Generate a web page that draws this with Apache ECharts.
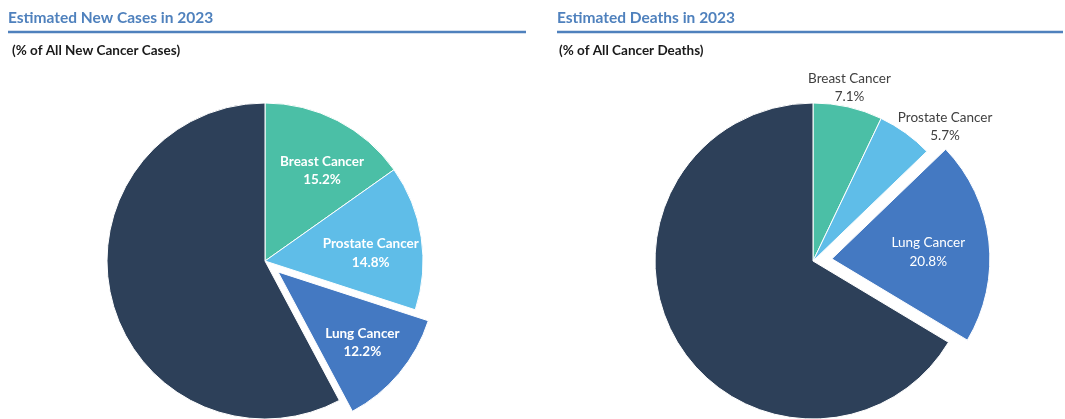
<!DOCTYPE html>
<html>
<head>
<meta charset="utf-8">
<script src="https://cdn.jsdelivr.net/npm/echarts@6/dist/echarts.min.js"></script>
<style>
html,body{margin:0;padding:0;background:#fff;}
#chart{width:1065px;height:419px;}
</style>
</head>
<body>
<div id="chart"></div>
<script>
const categories = ['Breast Cancer', 'Prostate Cancer', 'Lung Cancer', 'Other'];
const newCasesPct = [15.2, 14.8, 12.2, 57.8];
const deathsPct = [7.1, 5.7, 20.8, 66.4];
const titles = ['Estimated New Cases in 2023', 'Estimated Deaths in 2023'];
const subtitles = ['(% of All New Cancer Cases)', '(% of All Cancer Deaths)'];
const colors = ['#4BBFA6', '#5FBDE8', '#4479C2', '#2D4059'];

const FONT = 'Lato, "Open Sans", sans-serif';
const chart = echarts.init(document.getElementById('chart'), null, {renderer: 'canvas'});

function items(values, labelFor, selectedIdx) {
  return categories.map((c, i) => {
    const it = {name: c, value: values[i], itemStyle: {color: colors[i]}};
    if (i === selectedIdx) it.selected = true;
    const l = labelFor ? labelFor(i) : null;
    it.label = l ? l : {show: false};
    return it;
  });
}

function basePie(center, radius, offset) {
  return {
    type: 'pie', center: center, radius: radius,
    startAngle: 90, clockwise: true,
    selectedMode: 'multiple', selectedOffset: offset,
    avoidLabelOverlap: false,
    labelLine: {show: false},
    emphasis: {disabled: true},
    silent: true,
    animation: false
  };
}

// transparent pie used only to place labels at a chosen radius
function overlay(center, radius, values, labelFor) {
  const s = basePie(center, radius, 0);
  s.selectedMode = false;
  s.itemStyle = {color: 'rgba(0,0,0,0)', borderWidth: 0};
  s.data = items(values, labelFor, -1).map(d => {
    d.itemStyle = {color: 'rgba(0,0,0,0)', borderWidth: 0};
    return d;
  });
  return s;
}

const whiteBold = {
  show: true, position: 'inside', formatter: '{b}\n{c}%',
  color: '#ffffff', fontFamily: FONT, fontWeight: 'bold', fontSize: 13.5, lineHeight: 18.5
};
const whiteNormal = Object.assign({}, whiteBold, {fontWeight: 'normal'});
const grayNormal = Object.assign({}, whiteBold, {color: '#404040', fontWeight: 'normal'});
const leftOffsets = [[6, 8], [-4, 9]];

const leftCenter = [265, 261];
const rightCenter = [813, 261];
const R = 158;

const series = [];
// Left pie sectors
const leftMain = basePie(leftCenter, R, 17);
leftMain.itemStyle = {borderColor: '#ffffff', borderWidth: 1};
leftMain.label = {show: false};
leftMain.data = items(newCasesPct, null, 2);
series.push(leftMain);
// Left labels: breast, prostate
series.push(overlay(leftCenter, [0, 216], newCasesPct,
  i => (i < 2 ? Object.assign({}, whiteBold, {offset: leftOffsets[i]}) : null)));
// Left label: lung (exploded slice)
series.push(overlay(leftCenter, [0, 248], newCasesPct,
  i => (i === 2 ? whiteBold : null)));

// Right pie sectors
const rightMain = basePie(rightCenter, R, 19);
rightMain.itemStyle = {borderColor: '#ffffff', borderWidth: 1};
rightMain.label = {show: false};
rightMain.data = items(deathsPct, null, 2);
series.push(rightMain);
// Right lung label (inside exploded slice)
series.push(overlay(rightCenter, [0, 224], deathsPct,
  i => (i === 2 ? Object.assign({}, whiteNormal, {offset: [1, 4]}) : null)));
// Right outside labels
series.push(overlay(rightCenter, [0, 360], deathsPct, i => {
  if (i === 0) return Object.assign({}, grayNormal, {offset: [-4, 5]});
  if (i === 1) return Object.assign({}, grayNormal, {offset: [25, 14]});
  return null;
}));

const option = {
  backgroundColor: '#ffffff',
  title: [
    {text: titles[0], left: 8, top: 10, padding: 0,
     textStyle: {color: '#4F81BD', fontFamily: FONT, fontWeight: 'bold', fontSize: 15.5}},
    {text: titles[1], left: 557, top: 10, padding: 0,
     textStyle: {color: '#4F81BD', fontFamily: FONT, fontWeight: 'bold', fontSize: 15.5}},
    {text: subtitles[0], left: 12, top: 44, padding: 0,
     textStyle: {color: '#1a1a1a', fontFamily: FONT, fontWeight: 'bold', fontSize: 13.5}},
    {text: subtitles[1], left: 559, top: 44, padding: 0,
     textStyle: {color: '#1a1a1a', fontFamily: FONT, fontWeight: 'bold', fontSize: 13.5}}
  ],
  graphic: [
    {type: 'line', shape: {x1: 8, y1: 32, x2: 526, y2: 32}, style: {stroke: '#4F81BD', lineWidth: 2.5}, silent: true},
    {type: 'line', shape: {x1: 557, y1: 32, x2: 1063, y2: 32}, style: {stroke: '#4F81BD', lineWidth: 2.5}, silent: true}
  ],
  series: series
};
chart.setOption(option);
</script>
</body>
</html>
